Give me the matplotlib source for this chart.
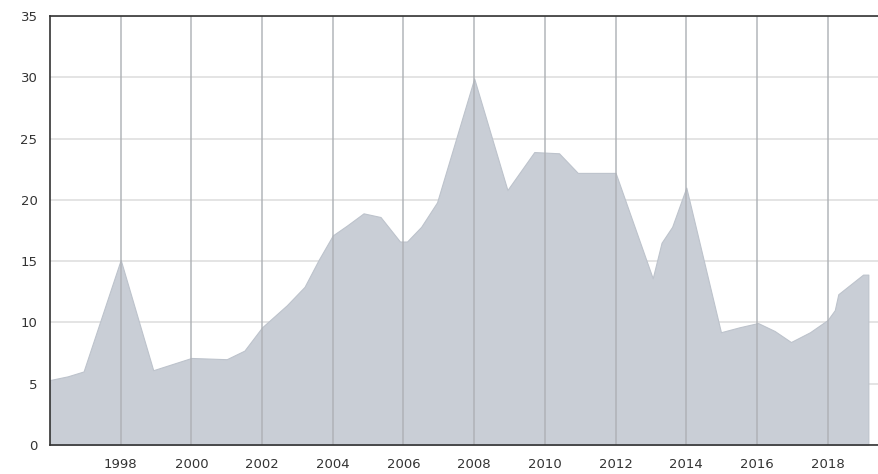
import matplotlib
matplotlib.use("Agg")
import matplotlib.pyplot as plt

years = [1996.0, 1996.5, 1996.95, 1998.0, 1998.92, 2000.0, 2001.0, 2001.5, 2002.0,
         2002.7, 2003.2, 2003.6, 2004.0, 2004.4, 2004.87, 2005.35, 2005.9, 2006.1,
         2006.5, 2006.95, 2008.0, 2008.94, 2009.7, 2010.4, 2010.93, 2012.0,
         2013.05, 2013.3, 2013.6, 2014.0, 2014.98, 2015.5, 2016.03, 2016.5, 2016.96,
         2017.5, 2018.0, 2018.2, 2018.3, 2019.0, 2019.15]
values = [5.3, 5.6, 6.0, 15.1, 6.1, 7.1, 7.0, 7.7, 9.6,
          11.4, 12.9, 15.1, 17.1, 17.9, 18.9, 18.6, 16.6, 16.6,
          17.8, 19.8, 29.9, 20.8, 23.9, 23.8, 22.2, 22.2,
          13.6, 16.5, 17.8, 21.0, 9.2, 9.6, 9.95, 9.3, 8.4,
          9.2, 10.2, 11.0, 12.3, 13.9, 13.9]
xticks = [1998, 2000, 2002, 2004, 2006, 2008, 2010, 2012, 2014, 2016, 2018]
yticks = [0, 5, 10, 15, 20, 25, 30, 35]

fig = plt.figure(figsize=(8.79, 4.74), dpi=100)
ax = fig.add_axes([50/879, 1-445/474, 1-50/879+0.01, (445-16)/474])
ax.fill_between(years, values, 0, color="#c9ced6", linewidth=0.8,
                edgecolor="#bdc3cc", zorder=2)
for y in yticks:
    ax.axhline(y, color="#e2e2e2", linewidth=1.3, zorder=1)
for x in xticks:
    ax.axvline(x, color="#adb0b5", linewidth=1.2, alpha=0.85, zorder=3)
ax.set_xlim(1996, 2019.7)
ax.set_ylim(0, 35)
ax.set_xticks(xticks)
ax.set_xticklabels([str(x) for x in xticks])
ax.set_yticks(yticks)
ax.tick_params(length=0, labelsize=9.5, colors="#333333", pad=9)
for s in ["left", "bottom", "top"]:
    ax.spines[s].set_color("#333333")
    ax.spines[s].set_linewidth(1.2)
    ax.spines[s].set_zorder(10)
ax.spines["right"].set_visible(False)
fig.savefig("out.png", dpi=100)
